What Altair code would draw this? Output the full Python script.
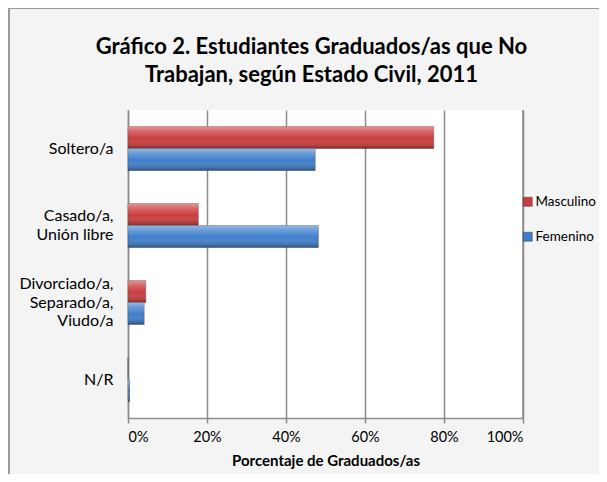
import altair as alt
import pandas as pd

categories = ["Soltero/a", "Casado/a,\nUnión libre", "Divorciado/a,\nSeparado/a,\nViudo/a", "N/R"]
series = ["Masculino", "Femenino"]
masculino = [77.4, 17.8, 4.5, 0.0]
femenino = [47.4, 48.2, 4.1, 0.4]
x_ticks = [0, 20, 40, 60, 80, 100]

rows = []
for i, c in enumerate(categories):
    rows.append({"cat": c, "serie": "Masculino", "pct": masculino[i]})
    rows.append({"cat": c, "serie": "Femenino", "pct": femenino[i]})
df = pd.DataFrame(rows)

FONT = "Lato"

y_enc = alt.Y("cat:N", sort=categories,
              scale=alt.Scale(paddingInner=0.43, paddingOuter=0.215),
              axis=alt.Axis(title=None, ticks=False, domain=True, domainColor="#8c8c8c",
                            domainWidth=1.5, labelFont=FONT, labelFontSize=16,
                            labelColor="#000000", labelPadding=15, labelLineHeight=18.5,
                            labelOffset={"condition": [
                                {"test": "length(split(datum.value, '\\n')) == 3", "value": -18.5},
                                {"test": "length(split(datum.value, '\\n')) == 2", "value": -9.25}],
                                "value": 0},
                            labelExpr="split(datum.label, '\\n')", grid=False))
x_enc = alt.X("pct:Q", scale=alt.Scale(domain=[0, 100], nice=False),
              axis=alt.Axis(values=x_ticks, labelExpr="datum.value + '%'",
                            title="Porcentaje de Graduados/as", titleFont=FONT,
                            titleFontSize=15, titleFontWeight="bold", titleColor="#000000",
                            titlePadding=10, labelFont=FONT, labelFontSize=14.5,
                            labelColor="#000000", labelPadding=7, tickSize=5,
                            tickColor="#8c8c8c", tickWidth=1.5, domainColor="#8c8c8c",
                            domainWidth=1.5, grid=True, gridColor="#8c8c8c", gridWidth=1.5))
yoff = alt.YOffset("serie:N", sort=series, scale=alt.Scale(paddingInner=0, paddingOuter=0))

frame = alt.Chart(pd.DataFrame({"k": [0]})).mark_rect(
    fill=None, stroke="#9a9a9a", strokeWidth=2
).encode(x=alt.value(-119), x2=alt.value(500), y=alt.value(-102), y2=alt.value(500))

plotborder = alt.Chart(pd.DataFrame({"k": [0]})).mark_rule(
    color="#8c8c8c", strokeWidth=1.5
).encode(x=alt.value(395), y=alt.value(0), y2=alt.value(308))

bars = alt.Chart(df).mark_bar(stroke="#3a3a3a", strokeWidth=0.6, strokeOpacity=0.6).encode(
    y=y_enc, x=x_enc, yOffset=yoff,
    color=alt.Color("serie:N", sort=series,
                    scale=alt.Scale(domain=series, range=["#cc3c3e", "#3f7fcc"]),
                    legend=alt.Legend(title=None, orient="none", legendX=393, legendY=85,
                                      symbolType="square", symbolSize=80,
                                      symbolStrokeColor="#333333", symbolStrokeWidth=0.5,
                                      labelFont=FONT, labelFontSize=13.5, labelColor="#000000",
                                      rowPadding=20, labelOffset=1))
)

gloss = alt.Chart(df).mark_bar(
    fill=alt.LinearGradient(gradient="linear", x1=0, x2=0, y1=0, y2=1, stops=[
        alt.GradientStop(color="rgba(255,255,255,0.45)", offset=0),
        alt.GradientStop(color="rgba(255,255,255,0.2)", offset=0.25),
        alt.GradientStop(color="rgba(255,255,255,0)", offset=0.55),
        alt.GradientStop(color="rgba(0,0,0,0.35)", offset=1)])
).encode(y=alt.Y("cat:N", sort=categories), x="pct:Q", yOffset=alt.YOffset("serie:N", sort=series))

chart = alt.layer(frame, plotborder, bars, gloss).properties(
    width=395, height=308,
    autosize=alt.AutoSizeParams(type="none"),
    padding={"left": 120, "top": 102, "right": 76, "bottom": 56},
    background="#f4f4f4",
    title=alt.TitleParams(text=["Gráfico 2. Estudiantes Graduados/as que No",
                                "Trabajan,  según Estado Civil, 2011"],
                          font=FONT, fontSize=22, fontWeight="bold", color="#000000",
                          anchor="middle", frame="group", dx=-14, offset=-80, lineHeight=28)
).configure_view(stroke=None, fill="#ffffff")

chart.save("out.html", embed_options={"renderer": "svg", "actions": False})
